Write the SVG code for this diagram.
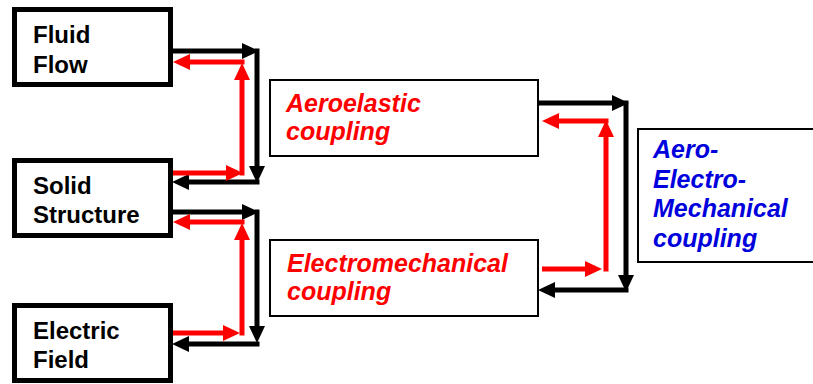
<svg xmlns="http://www.w3.org/2000/svg" width="813" height="384" viewBox="0 0 813 384">
<style>
.thick{fill:#fff;stroke:#000;stroke-width:5}
.thin{fill:#fff;stroke:#000;stroke-width:2}
.lbl{font-family:"Liberation Sans",Arial,sans-serif;font-weight:bold;font-size:24px;fill:#000}
.it{font-family:"Liberation Sans",Arial,sans-serif;font-weight:bold;font-style:italic;font-size:25px}
.red{fill:#f00}
.blue{fill:#0000dd}
.bk{stroke:#000;stroke-width:5;fill:none;marker-end:url(#ab)}
.rd{stroke:#f00;stroke-width:5;fill:none;marker-end:url(#ar)}
</style>
<defs>
<marker id="ab" markerUnits="userSpaceOnUse" markerWidth="17" markerHeight="16" refX="11" refY="8" orient="auto"><path d="M0,0 L17,8 L0,16 z" fill="#000"/></marker>
<marker id="ar" markerUnits="userSpaceOnUse" markerWidth="17" markerHeight="16" refX="11" refY="8" orient="auto"><path d="M0,0 L17,8 L0,16 z" fill="#f00"/></marker>
</defs>
<rect width="813" height="384" fill="#fff"/>
<g id="fluid-flow">
<rect class="thick" x="14.5" y="9.5" width="156" height="75"/>
<text class="lbl" x="33" y="43">Fluid</text>
<text class="lbl" x="33" y="73">Flow</text>
</g>
<g id="solid-structure">
<rect class="thick" x="14.5" y="160.5" width="156" height="75"/>
<text class="lbl" x="33" y="194">Solid</text>
<text class="lbl" x="33" y="223">Structure</text>
</g>
<g id="electric-field">
<rect class="thick" x="14.5" y="305.5" width="156" height="75"/>
<text class="lbl" x="33" y="339">Electric</text>
<text class="lbl" x="33" y="368">Field</text>
</g>
<g id="aeroelastic">
<rect class="thin" x="270" y="80" width="268" height="76"/>
<text class="it red" x="286" y="112">Aeroelastic</text>
<text class="it red" x="286" y="140">coupling</text>
</g>
<g id="electromechanical">
<rect class="thin" x="270" y="240" width="268" height="76"/>
<text class="it red" x="287" y="272">Electromechanical</text>
<text class="it red" x="287" y="300">coupling</text>
</g>
<g id="aero-electro-mechanical">
<rect class="thin" x="638" y="129" width="200" height="133"/>
<text class="it blue" x="653" y="158">Aero-</text>
<text class="it blue" x="653" y="188">Electro-</text>
<text class="it blue" x="653" y="217">Mechanical</text>
<text class="it blue" x="653" y="247">coupling</text>
</g>
<g id="connectors">
<path class="bk" d="M173,51 H253"/>
<path class="bk" d="M257,48.5 V177"/>
<path class="bk" d="M259.5,182 H178"/>
<path class="rd" d="M173,173 H237"/>
<path class="rd" d="M242,175.5 V69"/>
<path class="rd" d="M244.5,62 H179"/>
<path class="bk" d="M173,212 H253"/>
<path class="bk" d="M257,209.5 V337"/>
<path class="bk" d="M259.5,344 H178"/>
<path class="rd" d="M173,333 H234"/>
<path class="rd" d="M242,335.5 V229"/>
<path class="rd" d="M244.5,222 H179"/>
<path class="bk" d="M539,103 H623"/>
<path class="bk" d="M626,100.5 V286"/>
<path class="bk" d="M628.5,290 H544"/>
<path class="rd" d="M542,269 H596"/>
<path class="rd" d="M606,271.5 V126"/>
<path class="rd" d="M608.5,121 H548"/>
</g>
</svg>
